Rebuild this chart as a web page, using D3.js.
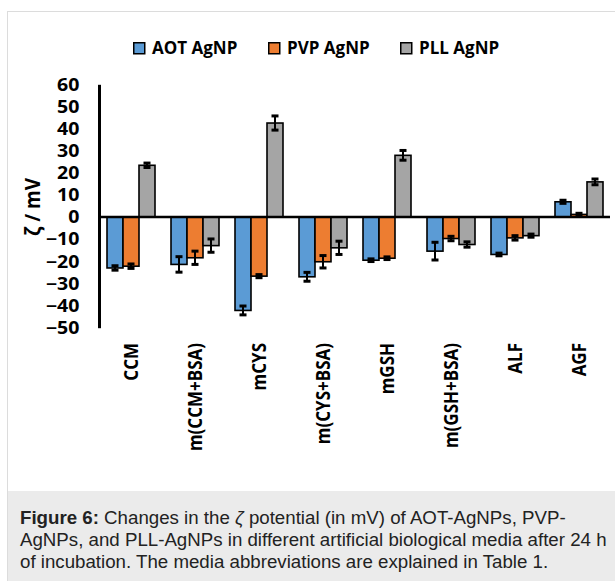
<!DOCTYPE html>
<html>
<head>
<meta charset="utf-8">
<script src="https://cdn.jsdelivr.net/npm/d3@7"></script>
<style>
  body { margin: 0; background: #fff; }
  .tick-lbl, .cat-lbl, .leg-lbl, .y-title { font-family: "Open Sans", sans-serif; font-weight: bold; fill: #000; }
  .caption { font-family: "Liberation Sans", Arial, sans-serif; font-size: 18.7px; fill: #222; }
</style>
</head>
<body>
<div id="chart"></div>
<script>
// ---- data ----
var media = ["CCM", "m(CCM+BSA)", "mCYS", "m(CYS+BSA)", "mGSH", "m(GSH+BSA)", "ALF", "AGF"];
var seriesNames = ["AOT AgNP", "PVP AgNP", "PLL AgNP"];
var seriesColors = ["#5b9bd5", "#ed7d31", "#a5a5a5"];
var aotValues = [-23.0, -21.4, -42.2, -27.0, -19.5, -15.4, -16.9, 6.9];
var aotErrors = [1.0, 3.5, 2.0, 2.0, 0.6, 4.0, 0.6, 0.7];
var pvpValues = [-22.2, -18.4, -26.7, -20.2, -18.6, -9.7, -9.4, 1.2];
var pvpErrors = [1.0, 3.0, 0.7, 2.8, 0.6, 1.0, 1.0, 0.5];
var pllValues = [23.4, -12.9, 42.5, -13.9, 27.9, -12.4, -8.4, 15.9];
var pllErrors = [1.0, 3.0, 3.2, 3.0, 2.2, 1.2, 0.7, 1.3];
var yTicks = [60, 50, 40, 30, 20, 10, 0, -10, -20, -30, -40, -50];
// caption pieces: [text, style] where style b = bold, i = italic
var captionLines = [
  [["Figure 6:", "b"], [" Changes in the ", ""], ["\u03B6", "i"], [" potential (in mV) of AOT-AgNPs, PVP-", ""]],
  [["AgNPs, and PLL-AgNPs in different artificial biological media after 24 h", ""]],
  [["of incubation. The media abbreviations are explained in Table 1.", ""]]
];

var W = 615, H = 581;
var allValues = [aotValues, pvpValues, pllValues];
var allErrors = [aotErrors, pvpErrors, pllErrors];

var svg = d3.select("#chart").append("svg")
    .attr("width", W).attr("height", H);

// frame + caption box
svg.append("rect").attr("x", 7.5).attr("y", 11.5).attr("width", W).attr("height", H)
    .attr("fill", "#fff").attr("stroke", "#dcdcdc").attr("stroke-width", 1);
svg.append("rect").attr("x", 8).attr("y", 491).attr("width", W - 8).attr("height", H - 491)
    .attr("fill", "#ebebeb");

// scales
var x = d3.scaleBand().domain(media).range([99, 611]).padding(0);
var xs = d3.scaleBand().domain(seriesNames).range([0, x.bandwidth()]).paddingInner(0).paddingOuter(0.5);
var y = d3.scaleLinear().domain([-50, 60]).range([327.7, 84.3]);

// y axis
var yAxis = svg.append("g")
    .attr("transform", "translate(99,0)")
    .call(d3.axisLeft(y).tickValues(yTicks).tickSize(0).tickPadding(17).tickFormat(d3.format("d")));
yAxis.select(".domain").attr("stroke", "#000").attr("stroke-width", 3);
yAxis.selectAll("text").attr("class", "tick-lbl").style("font-size", "17px")
    .attr("dy", "0.34em").attr("font-family", null).attr("font-size", null)
    .attr("transform", "scale(1.15,1)");

// y title
svg.append("text").attr("class", "y-title")
    .attr("transform", "translate(40,207) rotate(-90) scale(1,1.1)")
    .attr("text-anchor", "middle").style("font-size", "19px")
    .text("\u03B6 / mV");

// bars
var rows = [];
media.forEach(function (m, i) {
  seriesNames.forEach(function (s, j) {
    rows.push({ m: m, s: s, v: allValues[j][i], e: allErrors[j][i], c: seriesColors[j] });
  });
});

var bars = svg.append("g");
bars.selectAll("rect").data(rows).enter().append("rect")
    .attr("x", d => x(d.m) + xs(d.s))
    .attr("width", xs.bandwidth())
    .attr("y", d => y(Math.max(0, d.v)))
    .attr("height", d => Math.abs(y(d.v) - y(0)))
    .attr("fill", d => d.c)
    .attr("stroke", "#000").attr("stroke-width", 1.6);

// zero line
svg.append("line").attr("x1", 99).attr("x2", 610).attr("y1", y(0)).attr("y2", y(0))
    .attr("stroke", "#000").attr("stroke-width", 2.6);

// error bars
var err = svg.append("g").attr("stroke", "#000");
err.selectAll("line.stem").data(rows).enter().append("line").attr("class", "stem")
    .attr("x1", d => x(d.m) + xs(d.s) + xs.bandwidth() / 2)
    .attr("x2", d => x(d.m) + xs(d.s) + xs.bandwidth() / 2)
    .attr("y1", d => y(d.v - d.e)).attr("y2", d => y(d.v + d.e))
    .attr("stroke-width", 2);
[1, -1].forEach(function (sign) {
  err.selectAll("line.cap" + sign).data(rows).enter().append("line")
      .attr("x1", d => x(d.m) + xs(d.s) + xs.bandwidth() / 2 - 3.5)
      .attr("x2", d => x(d.m) + xs(d.s) + xs.bandwidth() / 2 + 3.5)
      .attr("y1", d => y(d.v + sign * d.e)).attr("y2", d => y(d.v + sign * d.e))
      .attr("stroke-width", 3);
});

// category labels
svg.append("g").selectAll("text").data(media).enter().append("text")
    .attr("class", "cat-lbl")
    .attr("transform", d => "translate(" + (x(d) + x.bandwidth() / 2 + 7) + ",343) rotate(-90) scale(1,1.2)")
    .attr("text-anchor", "end").style("font-size", "17px")
    .text(d => d);

// legend
var legX = [133, 268, 400];
var leg = svg.append("g").selectAll("g").data(seriesNames).enter().append("g")
    .attr("transform", (d, i) => "translate(" + legX[i] + ",42)");
leg.append("rect").attr("x", 0.75).attr("y", 0.75).attr("width", 11).attr("height", 11)
    .attr("fill", (d, i) => seriesColors[i]).attr("stroke", "#000").attr("stroke-width", 1.5);
leg.append("text").attr("class", "leg-lbl").attr("x", 19).attr("y", 12)
    .style("font-size", "17px").text(d => d);

// caption
var cap = svg.append("g");
captionLines.forEach(function (ln, i) {
  var t = cap.append("text").attr("class", "caption").attr("x", 20).attr("y", 524 + i * 22);
  ln.forEach(function (p) {
    var sp = t.append("tspan").text(p[0]);
    if (p[1] === "b") sp.attr("font-weight", "bold");
    if (p[1] === "i") sp.attr("font-style", "italic");
  });
});
</script>
</body>
</html>
